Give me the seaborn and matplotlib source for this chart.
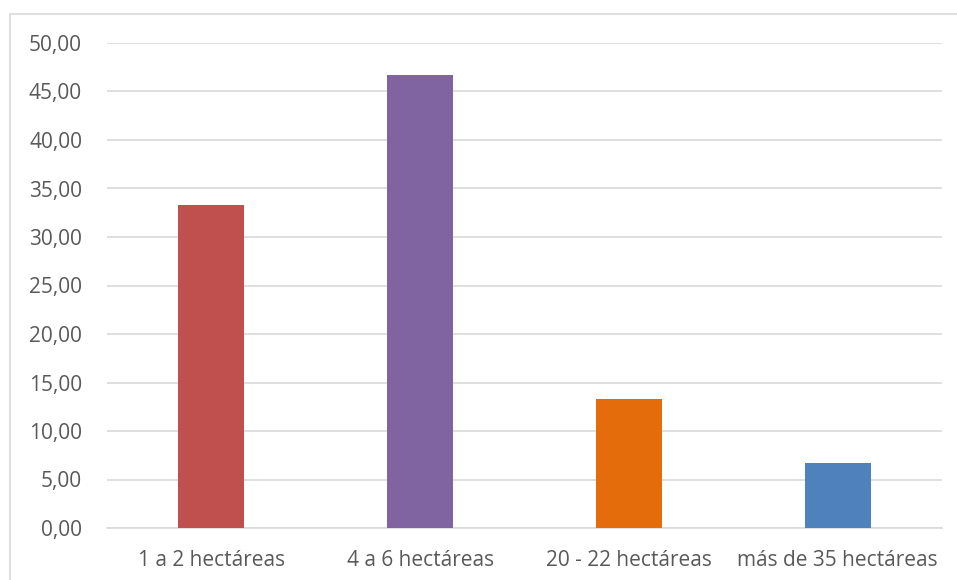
import matplotlib
matplotlib.use("Agg")
import matplotlib.pyplot as plt
from matplotlib.patches import Rectangle
from matplotlib.ticker import FuncFormatter, MultipleLocator
import seaborn as sns
import pandas as pd

categories = ["1 a 2 hectáreas", "4 a 6 hectáreas", "20 - 22 hectáreas", "más de 35 hectáreas"]
values = [33.33, 46.67, 13.33, 6.67]
colors = ["#C0504D", "#8064A2", "#E46C0A", "#4F81BD"]

df = pd.DataFrame({"cat": categories, "val": values})

sns.set_theme(style="white")
plt.rcParams["font.family"] = ["Open Sans", "DejaVu Sans"]

W, H = 957, 580
fig = plt.figure(figsize=(W / 100, H / 100), dpi=100)
ax = fig.add_axes([107 / W, 1 - 528 / H, (942 - 107) / W, (528 - 43) / H])

sns.barplot(data=df, x="cat", y="val", hue="cat", palette=colors,
            width=0.316, legend=False, ax=ax, saturation=1, zorder=3,
            linewidth=0)

ax.set_ylim(0, 50)
ax.set_xlim(-0.5, 3.5)
ax.yaxis.set_major_locator(MultipleLocator(5))
ax.yaxis.set_major_formatter(FuncFormatter(lambda v, p: f"{v:.2f}".replace(".", ",")))
ax.grid(axis="y", color="#D9D9D9", linewidth=1.2, zorder=0)
ax.set_axisbelow(True)
for s in ["top", "right", "left"]:
    ax.spines[s].set_visible(False)
ax.spines["bottom"].set_color("#D9D9D9")
ax.spines["bottom"].set_linewidth(1.2)
ax.tick_params(axis="both", length=0, labelsize=15, colors="#595959")
ax.tick_params(axis="y", pad=18)
ax.tick_params(axis="x", pad=16)
ax.set_xlabel("")
ax.set_ylabel("")

# chart area border
fig.patches.append(Rectangle((10 / W, -0.05), 1.0, 1 - 14 / H + 0.05,
                             transform=fig.transFigure, fill=False,
                             edgecolor="#D9D9D9", linewidth=1.2))

fig.savefig("out.png", dpi=100)
